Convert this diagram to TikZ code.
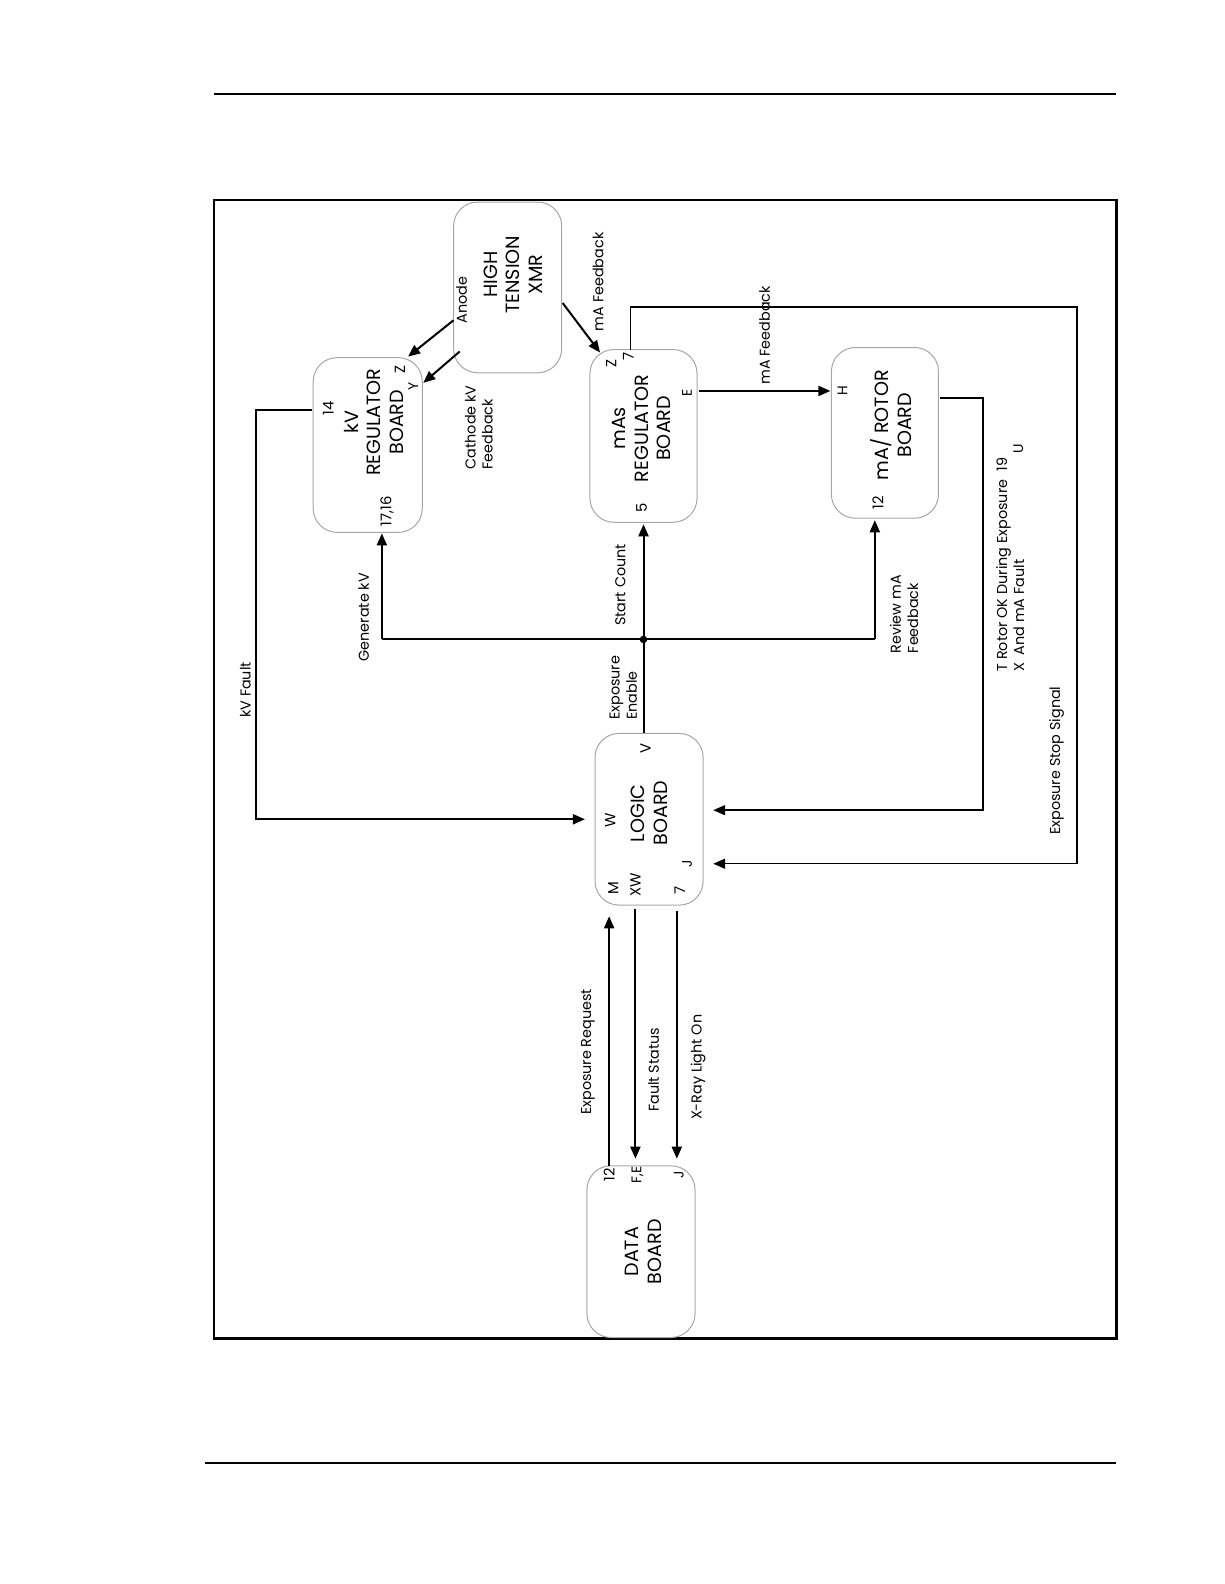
\documentclass[tikz,border=0pt]{standalone}
\usepackage{fontspec}
\setmainfont{Poppins}
\usetikzlibrary{arrows.meta,fit}
\begin{document}
\begin{tikzpicture}[x=0.50495bp,y=-0.50495bp,
  box/.style={draw=black!35, line width=0.5bp, rounded corners=12bp, inner sep=0pt},
  conn/.style={line width=1bp},
  thin conn/.style={line width=0.75bp},
  arr/.style={-{Triangle[length=6bp,width=5bp]}},
  ttl/.style={rotate=90, font=\fontsize{9.6}{11.4}\selectfont, align=center, inner sep=0pt},
  lbl/.style={rotate=90, font=\fontsize{7.2}{8.6}\selectfont, align=left, inner sep=0pt},
  pin/.style={rotate=90, font=\fontsize{7.4}{8.6}\selectfont, inner sep=0pt},
  spin/.style={rotate=90, font=\fontsize{7}{7.5}\selectfont, inner sep=0pt}]
\useasboundingbox (0,0) rectangle (1212,1568);

% page rules and frame
\draw[line width=0.8bp] (212,93) coordinate (rtl) -- (1105,93) coordinate (rtr);
\draw[line width=0.8bp] (203,1448) coordinate (rbl) -- (1105,1448) coordinate (rbr);
\draw[line width=1.3bp] (212,198) coordinate (fa) rectangle (1105,1325) coordinate (fb);

% boxes
\node[box, fit={(449,200) (556,369)}] (ht) {};
\node[box, fit={(310,354) (418,527)}] (kv) {};
\node[box, fit={(584,346) (690,517)}] (mas) {};
\node[box, fit={(823,344) (929,513)}] (rot) {};
\node[box, fit={(589,726) (696,896)}] (logic) {};
\node[box, fit={(581,1154) (688,1324)}] (data) {};

% box titles
\node[ttl] (htT) at (508,272) {HIGH\\TENSION\\XMR};
\node[ttl] (kvT) at (370,418) {kV\\REGULATOR\\BOARD};
\node[ttl] (masT) at (635,424) {mAs\\REGULATOR\\BOARD};
\node[ttl] (rotT) at (882,421) {mA/ ROTOR\\BOARD};
\node[ttl] (logicT) at (643,805) {LOGIC\\BOARD};
\node[ttl] (dataT) at (637,1239) {DATA\\BOARD};

% pin labels
\node[pin] (p14) at (325,404) {14};
\node[pin] (p1716) at (383,506) {17,16};
\node[pin] (pkvZ) at (396,366) {Z};
\node[spin] (pkvY) at (409,383) {Y};
\node[pin] (pmasZ) at (605,360) {Z};
\node[pin] (pmas7) at (622,353) {7};
\node[spin] (pmasE) at (680,389) {E};
\node[pin] (pmas5) at (635,503) {5};
\node[spin] (protH) at (834,387) {H};
\node[pin] (prot12) at (869,498) {12};
\node[spin] (protU) at (1008,444) {U};
\node[pin] (plW) at (604,812) {W};
\node[pin] (plV) at (639,741) {V};
\node[spin] (plJ) at (680,855) {J};
\node[pin] (plM) at (607,879) {M};
\node[pin] (plXW) at (629,876) {XW};
\node[pin] (pl7) at (673,881) {7};
\node[pin] (pd12) at (603,1163) {12};
\node[spin] (pdFE) at (631,1163) {F,E};
\node[spin] (pdJ) at (672,1163) {J};

% connector labels
\node[lbl] (lAnode) at (457,297) {Anode};
\node[lbl, anchor=west] (lCath) at (474,465) {Cathode kV\\Feedback};
\node[lbl] (lmaf1) at (592,279) {mA Feedback};
\node[lbl] (lmaf2) at (757,332) {mA Feedback};
\node[lbl] (lkvf) at (243,683) {kV Fault};
\node[lbl] (lgen) at (360,611) {Generate kV};
\node[lbl] (lstart) at (614,579) {Start Count};
\node[lbl, anchor=west] (lexen) at (617,713) {Exposure\\Enable};
\node[lbl, anchor=west] (lrev) at (895,647) {Review mA\\Feedback};
\node[lbl, anchor=west] (lrotor) at (1000,665) {T Rotor OK During Exposure\hspace{0.6em}19\\X\hspace{0.5em}And mA Fault};
\node[lbl] (lstop) at (1046,753) {Exposure Stop Signal};
\node[lbl, anchor=west] (lreq) at (582,1104) {Exposure Request};
\node[lbl, anchor=west] (lfault) at (647,1101) {Fault Status};
\node[lbl, anchor=west] (lxray) at (691,1109) {X-Ray Light On};

% connector end points
\coordinate (anS) at (449,317);  \coordinate (anE) at (404,353);
\coordinate (caS) at (455,348);  \coordinate (caE) at (419,379);
\coordinate (mfS) at (557,300);  \coordinate (mfE) at (594,349);
\coordinate (m7) at (624,346);   \coordinate (stopE) at (706,855);
\coordinate (mE) at (692,387);   \coordinate (rH) at (822,387);
\coordinate (rR) at (930,394);   \coordinate (rotE) at (706,802);
\coordinate (kvL) at (309,406);  \coordinate (kvfE) at (579,811);
\coordinate (junc) at (637,633);
\coordinate (genE) at (378,528); \coordinate (revE) at (866,515);
\coordinate (lgTop) at (637,726); \coordinate (scE) at (637,519);
\coordinate (dReq) at (603,1154); \coordinate (lReq) at (603,907);
\coordinate (lFS) at (629,900);  \coordinate (dFS) at (629,1147);
\coordinate (lXR) at (670,902);  \coordinate (dXR) at (670,1147);

% connectors
\draw[conn, arr] (anS) -- (anE);
\draw[conn, arr] (caS) -- (caE);
\draw[conn, arr] (mfS) -- (mfE);
\draw[thin conn, arr] (m7) -- (624,304) -- (1066,304) -- (1066,855) -- (stopE);
\draw[conn, arr] (mE) -- (rH);
\draw[thin conn, arr] (rR) -- (973,394) -- (973,802) -- (rotE);
\draw[conn, arr] (kvL) -- (253,406) -- (253,811) -- (kvfE);
\draw[conn] (378,633) -- (866,633);
\draw[conn, arr] (378,633) -- (genE);
\draw[conn, arr] (866,633) -- (revE);
\draw[conn, arr] (lgTop) -- (scE);
\fill (junc) circle (1.9bp);
\draw[conn, arr] (dReq) -- (lReq);
\draw[conn, arr] (lFS) -- (dFS);
\draw[conn, arr] (lXR) -- (dXR);
\end{tikzpicture}
\end{document}
